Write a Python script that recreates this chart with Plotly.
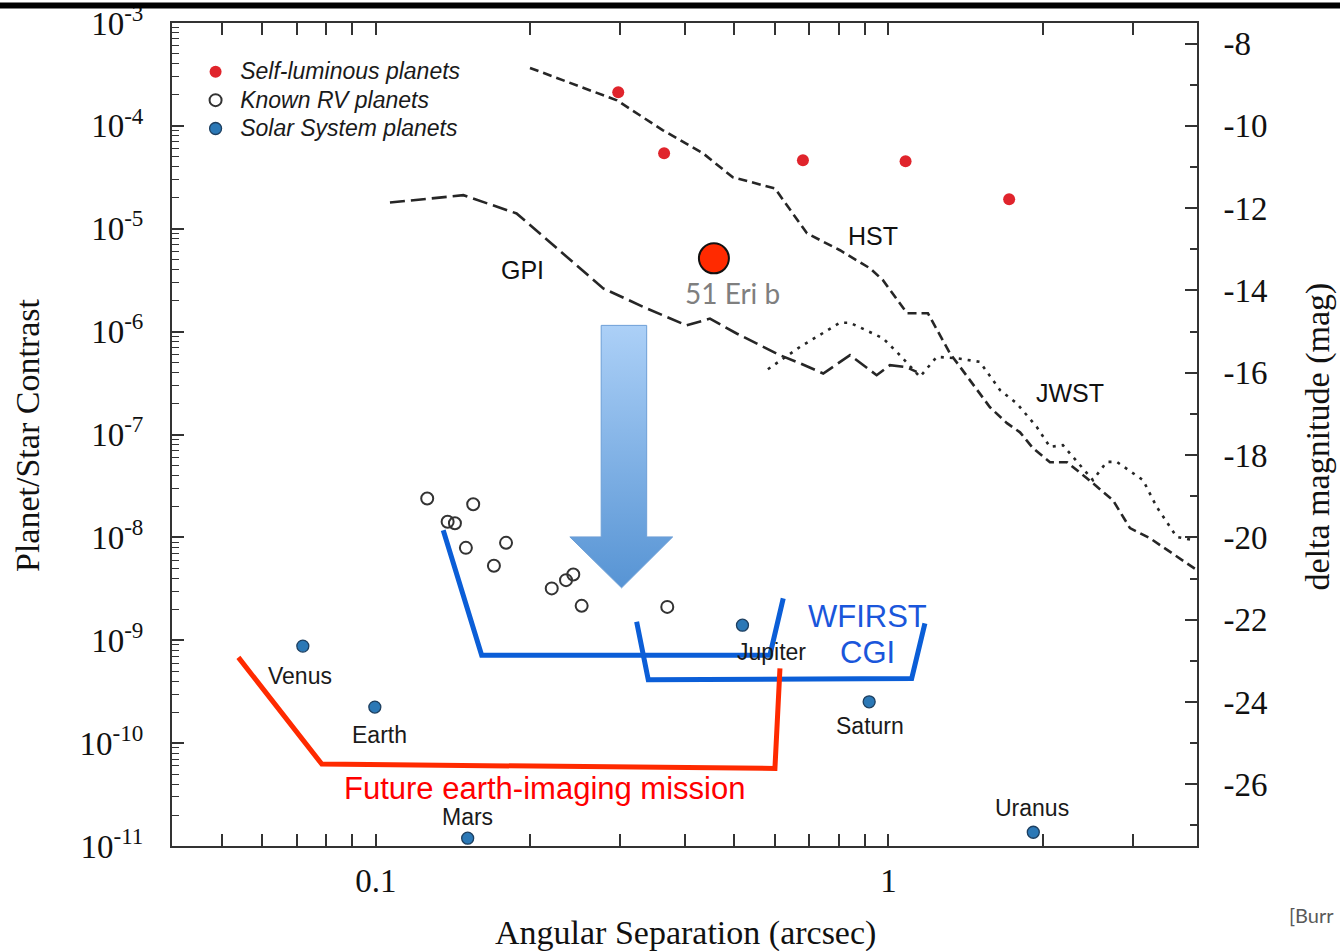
import numpy as np
import plotly.graph_objects as go

# ---- data -------------------------------------------------------------
# Directly imaged, self-luminous planets (separation in arcsec, contrast)
self_lum_sep = [0.297, 0.365, 0.681, 1.08, 1.72]
self_lum_con = [2.12e-4, 5.42e-5, 4.63e-5, 4.53e-5, 1.94e-5]

# Known radial-velocity planets
rv_sep = [0.1259, 0.1548, 0.1380, 0.1426, 0.1498, 0.1794, 0.1699,
          0.2427, 0.2349, 0.2203, 0.2520, 0.3702]
rv_con = [2.39e-8, 2.10e-8, 1.42e-8, 1.37e-8, 7.91e-9, 8.85e-9, 5.29e-9,
          4.36e-9, 3.84e-9, 3.19e-9, 2.16e-9, 2.11e-9]

# Solar System planets seen from 10 pc
ss_names = ["Venus", "Earth", "Mars", "Jupiter", "Saturn", "Uranus"]
ss_sep = [0.0720, 0.0995, 0.151, 0.519, 0.917, 1.917]
ss_con = [8.77e-10, 2.24e-10, 1.19e-11, 1.40e-9, 2.52e-10, 1.36e-11]

# 51 Eri b
eri_sep = [0.4565]
eri_con = [5.16e-6]

# Instrument contrast curves
hst_sep = [0.1998, 0.2953, 0.3631, 0.4346, 0.4970, 0.6005, 0.6196, 0.6934,
           0.8043, 0.9203, 0.9756, 1.087, 1.194, 1.318, 1.578, 1.703, 1.806,
           1.914, 2.066, 2.230, 2.439, 2.742, 2.960, 3.237, 4.0]
hst_con = [3.66e-4, 1.77e-4, 9.06e-5, 5.42e-5, 3.16e-5, 2.47e-5, 1.98e-5,
           9.03e-6, 6.18e-6, 4.13e-6, 3.16e-6, 1.51e-6, 1.51e-6, 6.17e-7,
           1.84e-7, 1.29e-7, 1.05e-7, 7.36e-8, 5.38e-8, 5.38e-8, 3.76e-8,
           2.30e-8, 1.23e-8, 9.82e-9, 4.80e-9]

gpi_sep = [0.1065, 0.1481, 0.1881, 0.2252, 0.2777, 0.3375, 0.4040, 0.4484,
           0.5056, 0.6142, 0.6719, 0.7461, 0.8414, 0.9484, 1.007, 1.085, 1.135]
gpi_con = [1.80e-5, 2.12e-5, 1.41e-5, 6.43e-6, 2.63e-6, 1.68e-6, 1.15e-6,
           1.34e-6, 9.59e-7, 5.90e-7, 4.93e-7, 3.92e-7, 5.90e-7, 3.77e-7,
           4.72e-7, 4.51e-7, 4.06e-7]

jwst_sep = [0.5818, 0.6719, 0.8043, 0.8414, 0.9756, 1.053, 1.152, 1.242,
            1.359, 1.508, 1.651, 1.779, 1.946, 2.066, 2.190, 2.364, 2.506,
            2.666, 2.789, 3.139, 3.337, 3.651, 3.928]
jwst_con = [4.31e-7, 7.10e-7, 1.22e-6, 1.22e-6, 8.63e-7, 5.90e-7, 3.63e-7,
            5.68e-7, 5.52e-7, 5.08e-7, 2.70e-7, 2.01e-7, 1.19e-7, 7.59e-8,
            7.87e-8, 5.04e-8, 3.60e-8, 5.42e-8, 5.42e-8, 3.60e-8, 1.98e-8,
            1.01e-8, 9.40e-9]

# Mission discovery-space outlines
wfirst_a_sep = [0.1353, 0.1608, 0.5871, 0.6233]
wfirst_a_con = [1.175e-8, 7.16e-10, 7.16e-10, 2.55e-9]
wfirst_b_sep = [0.3226, 0.3399, 1.110, 1.178]
wfirst_b_con = [1.51e-9, 4.14e-10, 4.24e-10, 1.46e-9]
future_sep = [0.0539, 0.0784, 0.6005, 0.6142]
future_con = [6.81e-10, 6.25e-11, 5.68e-11, 5.32e-10]

# Downward arrow (shaft and head extents)
arrow_shaft = [0.2751, 0.3375]
arrow_head = [0.2390, 0.3793]
arrow_tip_sep = 0.3015
arrow_levels = [1.15e-6, 1.01e-8, 3.23e-9]   # top, head base, tip

# Axis ticks
x_ticks = [0.1, 1]
x_ticktext = ["0.1", "1"]
x_minor = [0.05, 0.06, 0.07, 0.08, 0.09, 0.2, 0.3, 0.4, 0.5, 0.6, 0.7,
           0.8, 0.9, 2, 3]
y_exps = list(range(-11, -2))
y_ticks = [10.0 ** e for e in y_exps]
y_ticktext = ["10<sup>%d</sup>" % e for e in y_exps]
y_minor = [m * 10.0 ** e for e in range(-11, -3) for m in range(2, 10)]
mag_ticks = list(range(-26, -7, 2))
mag_ticktext = ["%d" % v for v in mag_ticks]
mag_minor = list(range(-27, -7, 2))

# ---- styling -----------------------------------------------------------
SERIF = "Liberation Serif"
SANS = "Liberation Sans"
AXIS_COL = "#333333"
CURVE_COL = "#262626"
BLUE = "#0b5ed7"
RED = "#ff2a00"


def legend_label(text):
    # slightly larger text than the legend row height is based on
    return "<span style='font-size:23px'>\u2009%s</span>" % text


fig = go.Figure()

# contrast curves
fig.add_trace(go.Scatter(x=hst_sep, y=hst_con, mode="lines", showlegend=False,
                         line=dict(color=CURVE_COL, width=2.6, dash="9px,5px")))
fig.add_trace(go.Scatter(x=gpi_sep, y=gpi_con, mode="lines", showlegend=False,
                         line=dict(color=CURVE_COL, width=2.6, dash="15px,6px")))
fig.add_trace(go.Scatter(x=jwst_sep, y=jwst_con, mode="lines", showlegend=False,
                         line=dict(color=CURVE_COL, width=2.6, dash="3px,6px")))

# gradient arrow
top, base, tip = arrow_levels
ax_x = [arrow_shaft[0], arrow_shaft[1], arrow_shaft[1], arrow_head[1],
        arrow_tip_sep, arrow_head[0], arrow_shaft[0], arrow_shaft[0]]
ax_y = [top, top, base, base, tip, base, base, top]
fig.add_trace(go.Scatter(
    x=ax_x, y=ax_y, mode="lines", fill="toself", showlegend=False,
    hoverinfo="skip",
    line=dict(color="#6d9fd6", width=1),
    fillgradient=dict(type="vertical",
                      colorscale=[[0, "#5794d4"], [1, "#acd0f7"]]),
))

# mission outlines
for sx, sy, col in [(wfirst_a_sep, wfirst_a_con, BLUE),
                    (wfirst_b_sep, wfirst_b_con, BLUE),
                    (future_sep, future_con, RED)]:
    fig.add_trace(go.Scatter(x=sx, y=sy, mode="lines", showlegend=False,
                             hoverinfo="skip",
                             line=dict(color=col, width=5)))

# planets
fig.add_trace(go.Scatter(
    x=self_lum_sep, y=self_lum_con, mode="markers",
    name=legend_label("Self-luminous planets"),
    marker=dict(size=12, color="#e0242c", line=dict(width=0))))
fig.add_trace(go.Scatter(
    x=rv_sep, y=rv_con, mode="markers",
    name=legend_label("Known RV planets"),
    marker=dict(size=12, symbol="circle-open", color="#333333",
                line=dict(width=2))))
fig.add_trace(go.Scatter(
    x=ss_sep, y=ss_con, mode="markers",
    name=legend_label("Solar System planets"),
    marker=dict(size=12, color="#2b78b6", line=dict(width=1.3, color="#1d3f60"))))
fig.add_trace(go.Scatter(
    x=eri_sep, y=eri_con, mode="markers", showlegend=False,
    marker=dict(size=30, color="#ff2a00", line=dict(width=2, color="#111111"))))

# invisible trace that carries the magnitude axis
fig.add_trace(go.Scatter(x=[1], y=[-20], yaxis="y2", mode="markers",
                         marker=dict(opacity=0), showlegend=False,
                         hoverinfo="skip"))

annotations = []

# planet name labels (pixel offsets from each marker)
label_shift = {"Venus": (-3, -30), "Earth": (5, -28), "Mars": (0, 21),
               "Jupiter": (29, -27), "Saturn": (1, -24), "Uranus": (-1, 24)}
for name, sx, sy in zip(ss_names, ss_sep, ss_con):
    dx, dy = label_shift[name]
    annotations.append(dict(
        x=np.log10(sx), y=np.log10(sy), xref="x", yref="y", text=name,
        showarrow=False, xshift=dx, yshift=dy,
        font=dict(family=SANS, size=23, color="#1a1a1a")))

annotations.append(dict(
    x=np.log10(eri_sep[0]), y=np.log10(eri_con[0]), xref="x", yref="y",
    text="51 Eri b", showarrow=False, xshift=19, yshift=-35,
    font=dict(family="Lato", size=28, color="#7f7f7f")))

# curve names
for text, lx, ly in [("HST", 0.933, 8.45e-6), ("GPI", 0.1935, 3.93e-6),
                     ("JWST", 2.26, 2.52e-7)]:
    annotations.append(dict(
        x=np.log10(lx), y=np.log10(ly), xref="x", yref="y", text=text,
        showarrow=False, font=dict(family=SANS, size=25, color="#111111")))

# mission names
for text, lx, ly, col in [("WFIRST", 0.912, 1.71e-9, "#1a56db"),
                          ("CGI", 0.912, 7.66e-10, "#1a56db"),
                          ("Future earth-imaging mission", 0.2137, 3.6e-11,
                           "#ff0000")]:
    annotations.append(dict(
        x=np.log10(lx), y=np.log10(ly), xref="x", yref="y", text=text,
        showarrow=False, font=dict(family=SANS, size=31, color=col)))

# axis titles
annotations += [
    dict(x=0.5005, y=-0.1057, xref="paper", yref="paper",
         xanchor="center", yanchor="middle",
         text="Angular Separation (arcsec)", showarrow=False,
         font=dict(family=SERIF, size=34, color="#111111")),
    dict(x=-0.1405, y=0.4994, xref="paper", yref="paper",
         xanchor="center", yanchor="middle",
         text="Planet/Star Contrast", showarrow=False, textangle=-90,
         font=dict(family=SERIF, size=34, color="#111111")),
    dict(x=1.119, y=0.4976, xref="paper", yref="paper",
         xanchor="center", yanchor="middle",
         text="delta magnitude (mag)", showarrow=False, textangle=-90,
         font=dict(family=SERIF, size=34, color="#111111")),
    dict(x=1.0878, y=-0.0838, xref="paper", yref="paper",
         xanchor="left", yanchor="middle",
         text="[Burr", showarrow=False,
         font=dict(family="Lato", size=20, color="#595959")),
]

tick_font = dict(family=SERIF, size=33, color="#111111")

fig.update_layout(
    width=1340, height=951,
    margin=dict(l=172, r=143, t=23, b=105, autoexpand=False),
    paper_bgcolor="white", plot_bgcolor="white",
    annotations=annotations,
    shapes=[dict(type="rect", xref="paper", yref="paper",
                 x0=-0.17, x1=1.15, y0=1.0176, y1=1.0249,
                 fillcolor="black", line=dict(width=0))],
    legend=dict(x=0.023, y=0.964, xanchor="left", yanchor="top",
                bgcolor="rgba(0,0,0,0)", borderwidth=0,
                font=dict(family=SANS, size=19.5, color="#1a1a1a",
                          style="italic"),
                tracegroupgap=0, itemwidth=30),
    xaxis=dict(
        type="log", range=[np.log10(0.04), np.log10(4)], automargin=False,
        tickvals=x_ticks, ticktext=x_ticktext, tickfont=tick_font,
        ticks="inside", ticklen=12, tickwidth=1.5, tickcolor=AXIS_COL,
        ticklabelstandoff=4, ticklabeloverflow="allow",
        minor=dict(tickvals=x_minor, ticks="inside", ticklen=7,
                   tickwidth=1.5, tickcolor=AXIS_COL, showgrid=False),
        showline=True, linecolor=AXIS_COL, linewidth=2, mirror="allticks",
        showgrid=False, zeroline=False),
    yaxis=dict(
        type="log", range=[-11.0002, -2.9998], automargin=False,
        tickvals=y_ticks, ticktext=y_ticktext, tickfont=tick_font,
        ticks="inside", ticklen=12, tickwidth=1.5, tickcolor=AXIS_COL,
        ticklabelstandoff=20, ticklabeloverflow="allow",
        minor=dict(tickvals=y_minor, ticks="inside", ticklen=7,
                   tickwidth=1.2, tickcolor=AXIS_COL, showgrid=False),
        showline=True, linecolor=AXIS_COL, linewidth=2, mirror=True,
        showgrid=False, zeroline=False),
    yaxis2=dict(
        overlaying="y", side="right", anchor="x", range=[-27.5, -7.5],
        automargin=False,
        tickvals=mag_ticks, ticktext=mag_ticktext, tickfont=tick_font,
        ticks="inside", ticklen=12, tickwidth=1.5, tickcolor=AXIS_COL,
        ticklabelstandoff=18, ticklabeloverflow="allow",
        minor=dict(tickvals=mag_minor, ticks="inside", ticklen=7,
                   tickwidth=1.5, tickcolor=AXIS_COL, showgrid=False),
        showline=True, linecolor=AXIS_COL, linewidth=2,
        showgrid=False, zeroline=False),
)

fig.write_html("out.html")
